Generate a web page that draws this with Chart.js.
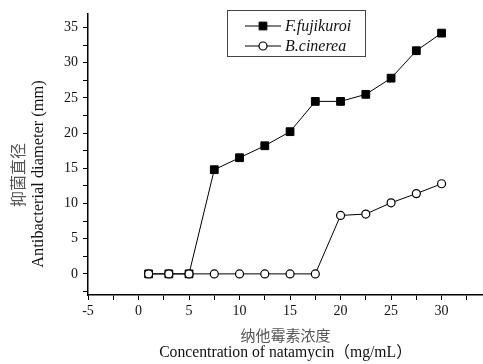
<!DOCTYPE html>
<html>
<head>
<meta charset="utf-8">
<script src="https://cdn.jsdelivr.net/npm/chart.js@4.4.1/dist/chart.umd.min.js"></script>
<style>
html,body{margin:0;padding:0;background:#fff;}
</style>
</head>
<body>
<canvas id="myChart" width="483" height="364"></canvas>
<script>
const concentrations = [1, 3, 5, 7.5, 10, 12.5, 15, 17.5, 20, 22.5, 25, 27.5, 30];
const fujikuroi = [0, 0, 0, 14.8, 16.5, 18.2, 20.2, 24.5, 24.5, 25.5, 27.8, 31.7, 34.2];
const cinerea = [0, 0, 0, 0, 0, 0, 0, 0, 8.3, 8.5, 10.1, 11.4, 12.8];
const seriesNames = ["F.fujikuroi", "B.cinerea"];
const xTicks = [-5, -2.5, 0, 2.5, 5, 7.5, 10, 12.5, 15, 17.5, 20, 22.5, 25, 27.5, 30, 32.5];
const yTicks = [-2.5, 0, 2.5, 5, 7.5, 10, 12.5, 15, 17.5, 20, 22.5, 25, 27.5, 30, 32.5, 35];
const xTitle = ["纳他霉素浓度", "Concentration of natamycin（mg/mL）"];
const yTitle = ["抑菌直径", "Antibacterial diameter (mm)"];

const serif = "'Liberation Serif', 'Noto Sans CJK SC', serif";

function toPoints(ys) {
  return concentrations.map((c, i) => ({ x: c, y: ys[i] }));
}

const styleF = { pointStyle: 'rect', radius: 5.5, rotation: 0, borderWidth: 1 };
const styleB = { pointStyle: 'circle', radius: 4, rotation: 0, borderWidth: 1.2 };

const decor = {
  id: 'decor',
  afterDraw(chart) {
    const ctx = chart.ctx;
    const area = chart.chartArea;
    ctx.save();
    ctx.textAlign = 'center';
    ctx.textBaseline = 'middle';

    // x titles
    const cx = (area.left + area.right) / 2;
    ctx.fillStyle = '#555';
    ctx.font = "15px 'Noto Sans CJK SC'";
    ctx.fillText(xTitle[0], cx, 335);
    ctx.fillStyle = '#111';
    ctx.font = "15.7px " + serif;
    ctx.fillText(xTitle[1], cx, 353);

    // y titles
    ctx.save();
    ctx.translate(18, 175);
    ctx.rotate(-Math.PI / 2);
    ctx.fillStyle = '#555';
    ctx.font = "16px 'Noto Sans CJK SC'";
    ctx.fillText(yTitle[0], 0, 0);
    ctx.restore();
    ctx.save();
    ctx.translate(39, 174);
    ctx.rotate(-Math.PI / 2);
    ctx.fillStyle = '#111';
    ctx.font = "16.4px " + serif;
    ctx.fillText(yTitle[1], 0, 0);
    ctx.restore();

    // legend
    ctx.strokeStyle = '#444';
    ctx.lineWidth = 1;
    ctx.strokeRect(227.5, 10.5, 138, 46);
    const rows = [[26, styleF, '#000'], [46, styleB, '#fff']];
    rows.forEach((r, i) => {
      const y = r[0];
      ctx.strokeStyle = '#000';
      ctx.lineWidth = 1;
      ctx.beginPath();
      ctx.moveTo(245, y);
      ctx.lineTo(281, y);
      ctx.stroke();
      ctx.fillStyle = r[2];
      ctx.lineWidth = r[1].borderWidth;
      Chart.helpers.drawPoint(ctx, r[1], 263, y);
      ctx.fillStyle = '#111';
      ctx.textAlign = 'left';
      ctx.font = "italic 16px " + serif;
      ctx.fillText(seriesNames[i], 285, y + 1);
    });
    ctx.restore();
  }
};

new Chart("myChart", {
  type: "line",
  data: {
    datasets: [{
      label: seriesNames[0],
      data: toPoints(fujikuroi),
      borderColor: "#000",
      backgroundColor: "#000",
      borderWidth: 1,
      pointStyle: 'rect',
      pointRadius: styleF.radius,
      pointBorderWidth: 1,
      order: 1
    }, {
      label: seriesNames[1],
      data: toPoints(cinerea),
      borderColor: "#000",
      backgroundColor: "#fff",
      borderWidth: 1,
      pointStyle: 'circle',
      pointRadius: styleB.radius,
      pointBorderWidth: styleB.borderWidth,
      order: 0
    }]
  },
  options: {
    responsive: false,
    animation: false,
    clip: false,
    layout: { autoPadding: false, padding: { top: 12, right: 0, left: 0, bottom: 0 } },
    plugins: {
      legend: { display: false },
      tooltip: { enabled: false }
    },
    scales: {
      x: {
        type: 'linear',
        min: -5,
        max: 34.1,
        afterBuildTicks: s => { s.ticks = xTicks.map(v => ({ value: v })); },
        afterFit: s => { s.height = 69; s.paddingRight = 0; s.paddingLeft = 0; },
        border: { color: '#000', width: 1.5 },
        grid: { drawOnChartArea: false, drawTicks: true, tickLength: 5, color: '#000' },
        ticks: {
          autoSkip: false,
          maxRotation: 0,
          padding: 3,
          color: '#111',
          font: { family: serif, size: 14 },
          callback: v => (v % 5 === 0 ? String(v) : '')
        }
      },
      y: {
        type: 'linear',
        min: -3,
        max: 37,
        afterBuildTicks: s => { s.ticks = yTicks.map(v => ({ value: v })); },
        afterFit: s => { s.width = 88; },
        border: { color: '#000', width: 1.5 },
        grid: { drawOnChartArea: false, drawTicks: true, tickLength: 5, color: '#000' },
        ticks: {
          autoSkip: false,
          padding: 5,
          color: '#111',
          font: { family: serif, size: 14 },
          callback: v => (v % 5 === 0 ? String(v) : '')
        }
      }
    }
  },
  plugins: [decor]
});
</script>
</body>
</html>
